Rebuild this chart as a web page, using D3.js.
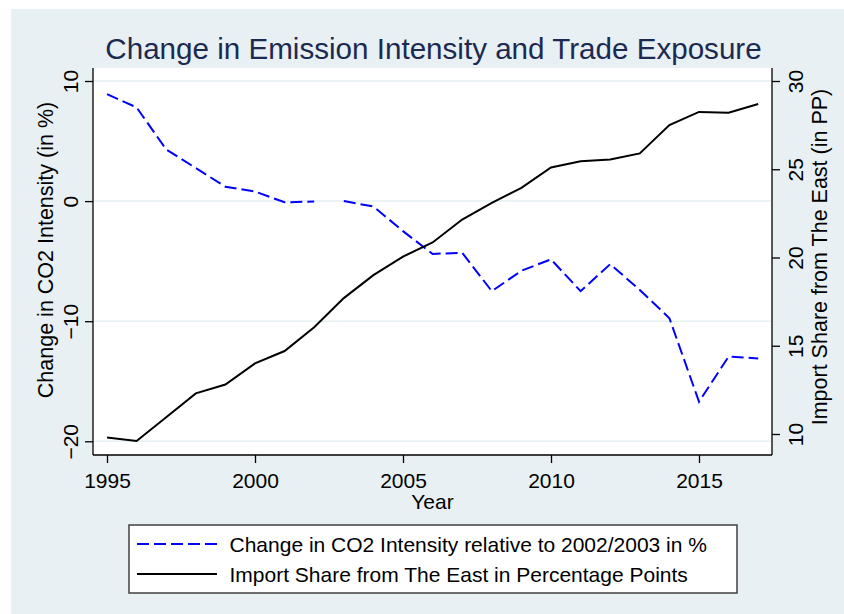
<!DOCTYPE html>
<html>
<head>
<meta charset="utf-8">
<script src="https://cdn.jsdelivr.net/npm/d3@7"></script>
<style>
	body { margin: 0; background: #fff; }
	svg text { font-family: "Liberation Sans", Arial, sans-serif; fill: #000; }
</style>
</head>
<body>
<div class="container"></div>
<script>
// values
var years = [1995, 1996, 1997, 1998, 1999, 2000, 2001, 2002, 2003, 2004, 2005,
	2006, 2007, 2008, 2009, 2010, 2011, 2012, 2013, 2014, 2015, 2016, 2017];

// change in CO2 intensity relative to 2002/2003, in %
var co2Change = [8.9, 7.8, 4.3, 2.75, 1.2, 0.8, -0.1, -0.03, 0.0, -0.45, -2.5,
	-4.4, -4.3, -7.5, -5.8, -4.85, -7.5, -5.25, -7.4, -9.75, -16.7, -12.95, -13.1];

// import share from the East, in percentage points
var importShare = [9.8, 9.6, 10.95, 12.3, 12.8, 14.0, 14.7, 16.05, 17.7, 19.0, 20.05,
	20.85, 22.15, 23.1, 23.95, 25.1, 25.45, 25.55, 25.9, 27.5, 28.25, 28.2, 28.7];

// the dashed series is not joined between these two years
var co2BreakAfter = 2002;

var xTicks = [1995, 2000, 2005, 2010, 2015];
var leftTicks = [-20, -10, 0, 10];
var rightTicks = [10, 15, 20, 25, 30];

var titleText = "Change in Emission Intensity and Trade Exposure";
var xTitle = "Year";
var leftTitle = "Change in CO2 Intensity (in %)";
var rightTitle = "Import Share from The East (in PP)";
var legendLabels = ["Change in CO2 Intensity relative to 2002/2003 in %",
	"Import Share from The East in Percentage Points"];

var width = 844, height = 614;
var plot = {left: 93, right: 772, top: 68, bottom: 455};

var svg = d3.select('.container').append("svg")
	.attr("width", width)
	.attr("height", height);

// outer background, leaves a thin white strip top and left
svg.append("rect")
	.attr("x", 11).attr("y", 9)
	.attr("width", width - 11).attr("height", height - 9)
	.style("fill", "#e8f0f3");

svg.append("rect")
	.attr("x", plot.left).attr("y", plot.top)
	.attr("width", plot.right - plot.left).attr("height", plot.bottom - plot.top)
	.style("fill", "#fff");

var x = d3.scaleLinear().domain([1995, 2017]).range([107, 758.2]);
var yLeft = d3.scaleLinear().domain([-20, 10]).range([441.3, 81]);
var yRight = d3.scaleLinear().domain([10, 30]).range([434, 81]);

// horizontal grid on the left axis ticks
svg.append("g").selectAll("line")
	.data(leftTicks)
	.enter()
	.append("line")
		.attr("x1", plot.left + 1).attr("x2", plot.right - 1)
		.attr("y1", function (d) { return yLeft(d); })
		.attr("y2", function (d) { return yLeft(d); })
		.style("stroke", "#e6eff1")
		.style("stroke-width", 1.5);

// series
var co2Points = years.map(function (yr, i) { return {year: yr, v: co2Change[i]}; });
var co2Segments = [
	co2Points.filter(function (d) { return d.year <= co2BreakAfter; }),
	co2Points.filter(function (d) { return d.year > co2BreakAfter; })
];

var co2Line = d3.line()
	.x(function (d) { return x(d.year); })
	.y(function (d) { return yLeft(d.v); });

svg.append("g").selectAll("path")
	.data(co2Segments)
	.enter()
	.append("path")
		.attr("d", co2Line)
		.style("fill", "none")
		.style("stroke", "#0000ff")
		.style("stroke-width", 2)
		.style("stroke-dasharray", "12,5");

var shareLine = d3.line()
	.x(function (d, i) { return x(years[i]); })
	.y(function (d) { return yRight(d); });

svg.append("path")
	.datum(importShare)
	.attr("d", shareLine)
	.style("fill", "none")
	.style("stroke", "#000")
	.style("stroke-width", 2);

// axes
var xAxis = svg.append("g")
	.attr("transform", "translate(0," + plot.bottom + ")")
	.call(d3.axisBottom(x).tickValues(xTicks).tickFormat(d3.format("d")).tickSize(8).tickSizeOuter(0));
xAxis.select(".domain").attr("d", "M" + plot.left + ",0H" + plot.right);
xAxis.selectAll("text")
	.attr("y", 33).attr("dy", 0)
	.style("font-size", "21px");

var leftAxis = svg.append("g")
	.attr("transform", "translate(" + plot.left + ",0)")
	.call(d3.axisLeft(yLeft).tickValues(leftTicks).tickSize(8).tickSizeOuter(0));
leftAxis.select(".domain").attr("d", "M0," + plot.top + "V" + plot.bottom);
leftAxis.selectAll("text")
	.attr("transform", "rotate(-90)")
	.attr("x", 0).attr("y", -15).attr("dy", 0)
	.style("text-anchor", "middle")
	.style("font-size", "21px");

var rightAxis = svg.append("g")
	.attr("transform", "translate(" + plot.right + ",0)")
	.call(d3.axisRight(yRight).tickValues(rightTicks).tickSize(8).tickSizeOuter(0));
rightAxis.select(".domain").attr("d", "M0," + plot.top + "V" + plot.bottom);
rightAxis.selectAll("text")
	.attr("transform", "rotate(-90)")
	.attr("x", 0).attr("y", 31).attr("dy", 0)
	.style("text-anchor", "middle")
	.style("font-size", "21px");

svg.selectAll(".domain, .tick line")
	.style("stroke", "#000")
	.style("stroke-width", 1.3);

// titles
svg.append("text")
	.attr("x", 433.5).attr("y", 58.5)
	.style("text-anchor", "middle")
	.style("font-size", "29.6px")
	.style("fill", "#1c2a52")
	.text(titleText);

svg.append("text")
	.attr("x", 432.5).attr("y", 509)
	.style("text-anchor", "middle")
	.style("font-size", "21px")
	.text(xTitle);

svg.append("text")
	.attr("transform", "translate(53,250) rotate(-90)")
	.style("text-anchor", "middle")
	.style("font-size", "21.5px")
	.text(leftTitle);

svg.append("text")
	.attr("transform", "translate(827,257) rotate(-90)")
	.style("text-anchor", "middle")
	.style("font-size", "21.5px")
	.text(rightTitle);

// legend
var legend = svg.append("g");
legend.append("rect")
	.attr("x", 129).attr("y", 525)
	.attr("width", 608).attr("height", 68)
	.style("fill", "#fff")
	.style("stroke", "#404040")
	.style("stroke-width", 1.5);

var legendRows = legend.selectAll("g.row")
	.data(legendLabels)
	.enter()
	.append("g")
		.attr("class", "row")
		.attr("transform", function (d, i) { return "translate(0," + (551.5 + i * 30) + ")"; });

legendRows.append("line")
	.attr("x1", 137).attr("x2", 217)
	.attr("y1", -7.5).attr("y2", -7.5)
	.style("stroke", function (d, i) { return i === 0 ? "#0000ff" : "#000"; })
	.style("stroke-width", 2)
	.style("stroke-dasharray", function (d, i) { return i === 0 ? "12,5" : null; });

legendRows.append("text")
	.attr("x", 229.5)
	.style("font-size", "21px")
	.text(function (d) { return d; });
</script>
</body>
</html>
